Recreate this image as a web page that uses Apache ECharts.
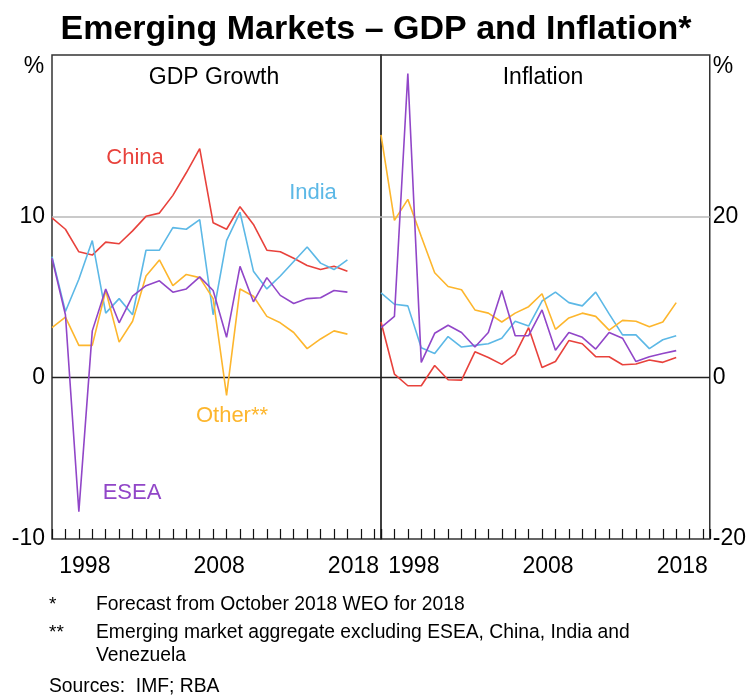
<!DOCTYPE html>
<html>
<head>
<meta charset="utf-8">
<script src="https://cdn.jsdelivr.net/npm/echarts@6/dist/echarts.min.js"></script>
<style>
html,body{margin:0;padding:0;background:#fff;}
#chart{width:749px;height:695px;}
</style>
</head>
<body>
<div id="chart"></div>
<script>
// ---- Data ----
const years = [1996,1997,1998,1999,2000,2001,2002,2003,2004,2005,2006,2007,2008,2009,2010,2011,2012,2013,2014,2015,2016,2017,2018];
const labelYears = [1998, 2008, 2018];

// GDP growth (%)
const gdpChina = [9.9,9.2,7.8,7.6,8.4,8.3,9.1,10.0,10.2,11.3,12.7,14.2,9.6,9.2,10.6,9.5,7.9,7.8,7.4,6.95,6.7,6.9,6.6];
const gdpIndia = [7.5,4.1,6.1,8.5,4.0,4.9,3.9,7.9,7.9,9.3,9.2,9.8,3.9,8.5,10.25,6.6,5.5,6.3,7.2,8.1,7.1,6.7,7.3];
const gdpOther = [3.1,3.75,2.0,2.0,5.4,2.2,3.5,6.3,7.3,5.7,6.4,6.2,4.9,-1.1,5.5,5.05,3.8,3.4,2.8,1.8,2.4,2.9,2.7];
const gdpEsea  = [7.4,3.9,-8.3,2.9,5.5,3.4,5.05,5.7,6.0,5.3,5.5,6.25,5.4,2.5,6.9,4.7,6.2,5.1,4.6,4.9,4.95,5.4,5.3];

// Inflation (%)
const infChina = [6.9,0.45,-1.0,-1.0,1.5,-0.25,-0.3,3.2,2.5,1.65,2.9,6.2,1.25,2.0,4.6,4.2,2.6,2.6,1.6,1.7,2.2,1.9,2.5];
const infIndia = [10.5,9.1,8.9,3.7,3.0,5.1,3.8,4.0,4.2,4.9,7.0,6.4,9.5,10.6,9.3,8.9,10.6,7.9,5.3,5.3,3.6,4.7,5.2];
const infOther = [30.1,19.5,22.1,17.5,13.0,11.3,10.9,8.4,8.0,6.9,8.0,8.8,10.4,6.0,7.4,8.0,7.6,5.9,7.1,7.0,6.3,6.9,9.3];
const infEsea  = [6.2,7.6,37.7,1.9,5.5,6.5,5.6,3.8,5.6,10.8,5.2,5.2,8.4,3.4,5.6,5.0,3.55,5.6,4.9,2.0,2.6,3.0,3.35];

const leftTicks = [-10, 0, 10];
const rightTicks = [-20, 0, 20];

// ---- Styles ----
const C_CHINA = '#e8423c';
const C_INDIA = '#5cb8e6';
const C_OTHER = '#fdb62d';
const C_ESEA  = '#9146c8';
const FONT = '"Liberation Sans", Arial, sans-serif';

function pairs(vals){ return years.map((y,i)=>[y, vals[i]]); }

function line(name, vals, color, idx, refLines){
  const s = {
    name, type:'line', xAxisIndex:idx, yAxisIndex:idx,
    data: pairs(vals), symbol:'none', smooth:false,
    lineStyle:{color, width:1.6}, itemStyle:{color},
    silent:true, z:3
  };
  if (refLines) {
    s.markLine = {
      silent:true, symbol:'none', label:{show:false}, z:1,
      data: refLines
    };
  }
  return s;
}

function xAxisDef(idx){
  return {
    type:'value', gridIndex:idx, min:1996, max:2020.5, interval:1, position:'bottom',
    axisLine:{show:false, onZero:false},
    axisTick:{show:true, inside:true, length:10, lineStyle:{color:'#111', width:1.2}},
    axisLabel:{customValues:labelYears, formatter:(v)=>String(v), color:'#000', fontSize:23, fontFamily:FONT, margin:15, padding:[1,0,0,12]},
    splitLine:{show:false}
  };
}

const chart = echarts.init(document.getElementById('chart'), null, {renderer:'canvas'});
chart.setOption({
  animation:false,
  backgroundColor:'#fff',
  grid:[
    {left:52, top:55, width:329, height:484, show:true, borderColor:'#333', borderWidth:1.5, backgroundColor:'transparent'},
    {left:381, top:55, width:329, height:484, show:true, borderColor:'#333', borderWidth:1.5, backgroundColor:'transparent'}
  ],
  xAxis:[xAxisDef(0), xAxisDef(1)],
  yAxis:[
    {type:'value', gridIndex:0, min:-10, max:20, interval:10, position:'left',
     axisLine:{show:false}, axisTick:{show:false}, splitLine:{show:false},
     axisLabel:{customValues:leftTicks, color:'#000', fontSize:23, fontFamily:FONT, margin:7}},
    {type:'value', gridIndex:1, min:-20, max:40, interval:20, position:'right',
     axisLine:{show:false}, axisTick:{show:false}, splitLine:{show:false},
     axisLabel:{customValues:rightTicks, color:'#000', fontSize:23, fontFamily:FONT, margin:3}}
  ],
  series:[
    line('China', gdpChina, C_CHINA, 0, [
      {yAxis:0, lineStyle:{color:'#222', width:1.3, type:'solid'}},
      {yAxis:10, lineStyle:{color:'#b8b8b8', width:1.5, type:'solid'}}
    ]),
    line('India', gdpIndia, C_INDIA, 0),
    line('Other', gdpOther, C_OTHER, 0),
    line('ESEA', gdpEsea, C_ESEA, 0),
    line('China', infChina, C_CHINA, 1, [
      {yAxis:0, lineStyle:{color:'#222', width:1.3, type:'solid'}},
      {yAxis:20, lineStyle:{color:'#b8b8b8', width:1.5, type:'solid'}}
    ]),
    line('India', infIndia, C_INDIA, 1),
    line('Other', infOther, C_OTHER, 1),
    line('ESEA', infEsea, C_ESEA, 1)
  ],
  graphic:[
    {type:'text', x:376, y:30, style:{text:'Emerging Markets – GDP and Inflation*', font:'bold 34px '+FONT, fill:'#000', align:'center', verticalAlign:'middle'}},
    {type:'text', x:214, y:78, style:{text:'GDP Growth', font:'23px '+FONT, fill:'#000', align:'center', verticalAlign:'middle'}},
    {type:'text', x:543, y:78, style:{text:'Inflation', font:'23px '+FONT, fill:'#000', align:'center', verticalAlign:'middle'}},
    {type:'text', x:34, y:67, style:{text:'%', font:'23px '+FONT, fill:'#000', align:'center', verticalAlign:'middle'}},
    {type:'text', x:723, y:67, style:{text:'%', font:'23px '+FONT, fill:'#000', align:'center', verticalAlign:'middle'}},
    {type:'text', x:135, y:158, style:{text:'China', font:'22px '+FONT, fill:C_CHINA, align:'center', verticalAlign:'middle'}},
    {type:'text', x:313, y:193, style:{text:'India', font:'22px '+FONT, fill:C_INDIA, align:'center', verticalAlign:'middle'}},
    {type:'text', x:232, y:416, style:{text:'Other**', font:'22px '+FONT, fill:C_OTHER, align:'center', verticalAlign:'middle'}},
    {type:'text', x:132, y:493, style:{text:'ESEA', font:'22px '+FONT, fill:C_ESEA, align:'center', verticalAlign:'middle'}},
    {type:'text', x:49, y:605, style:{text:'*', font:'19px '+FONT, fill:'#000', align:'left', verticalAlign:'middle'}},
    {type:'text', x:96, y:605, style:{text:'Forecast from October 2018 WEO for 2018', font:'19.3px '+FONT, fill:'#000', align:'left', verticalAlign:'middle'}},
    {type:'text', x:49, y:633, style:{text:'**', font:'19px '+FONT, fill:'#000', align:'left', verticalAlign:'middle'}},
    {type:'text', x:96, y:633, style:{text:'Emerging market aggregate excluding ESEA, China, India and', font:'19.3px '+FONT, fill:'#000', align:'left', verticalAlign:'middle'}},
    {type:'text', x:96, y:656, style:{text:'Venezuela', font:'19.3px '+FONT, fill:'#000', align:'left', verticalAlign:'middle'}},
    {type:'text', x:49, y:687, style:{text:'Sources:  IMF; RBA', font:'19.3px '+FONT, fill:'#000', align:'left', verticalAlign:'middle'}}
  ]
});
</script>
</body>
</html>
